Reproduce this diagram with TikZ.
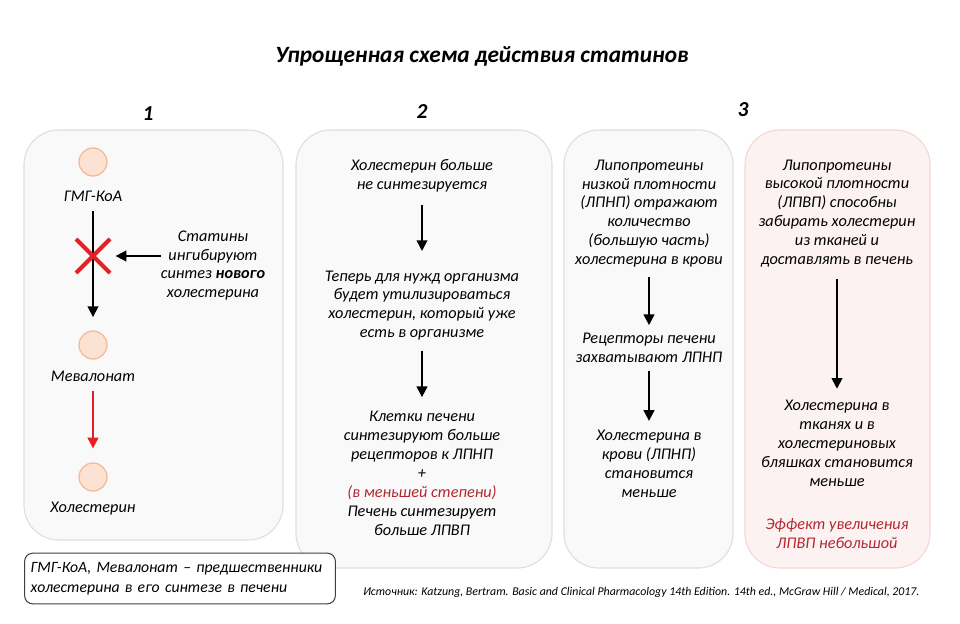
\documentclass[tikz,border=0pt]{standalone}
\usepackage{fontspec}
\setmainfont{Carlito}
\usetikzlibrary{arrows.meta,positioning}
\definecolor{PanelGray}{RGB}{249,249,249}
\definecolor{EdgeGray}{RGB}{222,222,222}
\definecolor{PanelPink}{RGB}{253,242,242}
\definecolor{EdgePink}{RGB}{246,212,212}
\definecolor{DotFill}{RGB}{251,226,210}
\definecolor{DotEdge}{RGB}{242,184,148}
\definecolor{StopRed}{RGB}{228,32,36}
\definecolor{NoteRed}{RGB}{178,40,50}

\begin{document}
\begin{tikzpicture}[x=0.75pt,y=-0.75pt,
  panel/.style={draw=EdgeGray,fill=PanelGray,rounded corners=26pt,line width=0.8pt},
  txt/.style={align=center,inner sep=0pt,
              font=\fontsize{12.2}{14.2}\selectfont\itshape},
  num/.style={font=\fontsize{16}{18}\selectfont\bfseries\itshape},
  dot/.style={circle,draw=DotEdge,fill=DotFill,line width=0.9pt,
              minimum size=21pt,inner sep=0pt},
  flow/.style={-{Triangle[length=8pt,width=8pt]},line width=1.3pt},
]
\useasboundingbox[fill=white] (0,0) rectangle (960,624);
% title and step numbers
\node[font=\fontsize{17.5}{20}\selectfont\bfseries\itshape] (title) at (482,56)
  {Упрощенная схема действия статинов};
\node[num] (n1) at (148,114) {1};
\node[num] (n2) at (422,112) {2};
\node[num] (n3) at (743,110) {3};
% panels
\draw[panel] (24,130) rectangle (283,540);
\draw[panel] (296,130) rectangle (552,568);
\draw[panel] (564,130) rectangle (733,568);
\draw[panel,draw=EdgePink,fill=PanelPink] (745,130) rectangle (930,568);

% 1 --- synthesis blocked
\node[dot] (gmg) at (93,162) {};
\node[txt] (gmgl) at (93,196) {ГМГ-КоА};
\node[dot] (mev) at (93,345) {};
\node[txt] (mevl) at (93,376) {Мевалонат};
\node[dot] (hol) at (93,477) {};
\node[txt] (holl) at (93,509) {Холестерин};
\node[txt] (stat) at (213,265.5) {Статины\\ингибируют\\синтез \textbf{нового}\\холестерина};
\coordinate (blk) at (93,256);
\draw[flow,shorten <=7pt,shorten >=10pt] (gmgl) -- (mev);
\draw[flow,StopRed,shorten <=7pt,shorten >=10.5pt] (mevl) -- (hol);
\draw[StopRed,line width=3pt] ([shift={(-17,-17)}]blk) -- ([shift={(17,17)}]blk);
\draw[StopRed,line width=3pt] ([shift={(-17,17)}]blk) -- ([shift={(17,-17)}]blk);
\draw[flow,shorten >=17pt] (stat.west |- blk) -- (blk);

% 2 --- liver reacts
\node[txt] (t21) at (422,175.5) {Холестерин больше\\не синтезируется};
\node[txt] (t22) at (422,305.5) {Теперь для нужд организма\\будет утилизироваться\\холестерин, который уже\\есть в организме};
\node[txt] (t23) at (422,473.5) {Клетки печени\\синтезируют больше\\рецепторов к ЛПНП\\+\\
  \textcolor{NoteRed}{(в меньшей степени)}\\Печень синтезирует\\больше ЛПВП};
\draw[flow,shorten <=10pt,shorten >=14.5pt] (t21) -- (t22);
\draw[flow,shorten <=7.5pt,shorten >=10.5pt] (t22) -- (t23);

% 3 --- LDL
\node[txt] (t31) at (649,213.5) {Липопротеины\\низкой плотности\\(ЛПНП) отражают\\количество\\(большую часть)\\холестерина в крови};
\node[txt] (t32) at (649,347.5) {Рецепторы печени\\захватывают ЛПНП};
\node[txt] (t33) at (649,463.5) {Холестерина в\\крови (ЛПНП)\\становится\\меньше};
\draw[flow,shorten <=7pt,shorten >=5.5pt] (t31) -- (t32);
\draw[flow,shorten <=6.5pt,shorten >=6.5pt] (t32) -- (t33);

% 3 --- HDL
\node[txt] (t41) at (837,213.5) {Липопротеины\\высокой плотности\\(ЛПВП) способны\\забирать холестерин\\из тканей и\\доставлять в печень};
\node[txt] (t42) at (837,443.5) {Холестерина в\\тканях и в\\холестериновых\\бляшках становится\\меньше};
\node[txt,text=NoteRed] (t43) at (837,533.5) {Эффект увеличения\\ЛПВП небольшой};
\draw[flow,shorten <=8.5pt,shorten >=8.5pt] (t41) -- (t42);

% legend and source
\node[draw=black!75,line width=0.8pt,fill=white,rounded corners=6pt,
  minimum width=232.5pt,minimum height=38pt,text width=224pt,align=left,
  inner xsep=4.5pt,font=\fontsize{11.8}{15}\selectfont\itshape] (legend) at (180,578.5)
  {ГМГ-КоА, Мевалонат -- предшественники\\холестерина в его синтезе в печени};
\node[anchor=west,inner sep=0pt,font=\fontsize{8.9}{10}\selectfont\itshape] (src) at (363,592)
  {Источник: Katzung, Bertram. Basic and Clinical Pharmacology 14th Edition. 14th ed., McGraw Hill / Medical, 2017.};
\end{tikzpicture}
\end{document}
